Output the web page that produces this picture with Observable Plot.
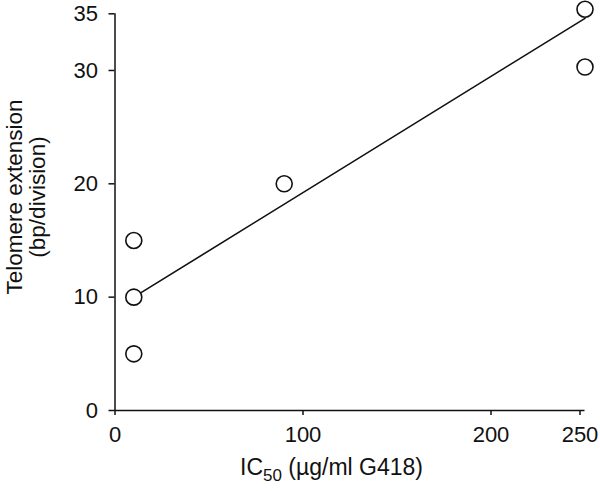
<!DOCTYPE html>
<html>
<head>
<meta charset="utf-8">
<script src="https://cdn.jsdelivr.net/npm/d3@7"></script>
<script src="https://cdn.jsdelivr.net/npm/@observablehq/plot@0.6"></script>
<style>
  html, body { margin: 0; padding: 0; background: #fff; }
  svg { display: block; }
</style>
</head>
<body>
<div id="chart"></div>
<script>
// Data
const ic50 = [10, 10, 10, 90, 250, 250];
const extension = [5, 10, 15, 20, 35.4, 30.3];
const fitX = [10, 250];
const fitY = [10, 34.6];
const xTicks = [0, 100, 200];
const xTicksEnd = [250];
const yTicks = [0, 10, 20, 30, 35];

const points = ic50.map((x, i) => ({x, y: extension[i]}));
const fit = fitX.map((x, i) => ({x, y: fitY[i]}));

const font = "'Liberation Sans', Arial, Helvetica, sans-serif";
const tickFont = 22;

const plot = Plot.plot({
  width: 600,
  height: 491,
  marginLeft: 114.5,
  marginRight: 15.5,
  marginTop: 13.3,
  marginBottom: 81,
  style: {fontFamily: font, background: "#fff", color: "#111"},
  x: {domain: [0, 250]},
  y: {domain: [0, 35]},
  marks: [
    Plot.axisX({ticks: xTicks, tickSize: 5, tickPadding: 11, fontSize: tickFont, label: null, strokeWidth: 1.5, tickFormat: d => String(d)}),
    Plot.axisX({ticks: xTicksEnd, tickSize: 5, tickPadding: 11, fontSize: tickFont, label: null, strokeWidth: 1.5, dx: -5, tickFormat: d => String(d)}),
    Plot.axisY({ticks: yTicks, tickSize: 6, tickPadding: 11, fontSize: tickFont, label: null, strokeWidth: 1.5, tickFormat: d => String(d)}),
    Plot.ruleY([0], {stroke: "#111", strokeWidth: 1.5}),
    Plot.ruleX([0], {y1: 0, y2: 35, stroke: "#111", strokeWidth: 1.5}),
    Plot.line(fit, {x: "x", y: "y", stroke: "#111", strokeWidth: 1.6}),
    Plot.dot(points, {x: "x", y: "y", r: 8, stroke: "#111", strokeWidth: 1.6, fill: "#fff"})
  ]
});

const svg = d3.select(plot);
svg.selectAll('g[aria-label$="tick label"]').attr("font-size", tickFont);

// x axis title with subscript
const xt = svg.append("text")
  .attr("x", 240).attr("y", 475)
  .attr("text-anchor", "start")
  .attr("font-family", font).attr("font-size", 23).attr("fill", "#111");
xt.append("tspan").text("IC");
xt.append("tspan").attr("font-size", 17).attr("dy", 6).text("50");
xt.append("tspan").attr("dy", -6).text(" (\u00b5g/ml G418)");

// y axis title, two lines, rotated
const yt = svg.append("text")
  .attr("transform", "translate(22,197) rotate(-90)")
  .attr("text-anchor", "middle")
  .attr("font-family", font).attr("font-size", 22.5).attr("fill", "#111");
yt.append("tspan").attr("x", 0).attr("y", 0).text("Telomere extension");
yt.append("tspan").attr("x", 0).attr("y", 23).text("(bp/division)");

document.getElementById("chart").appendChild(plot);
</script>
</body>
</html>
